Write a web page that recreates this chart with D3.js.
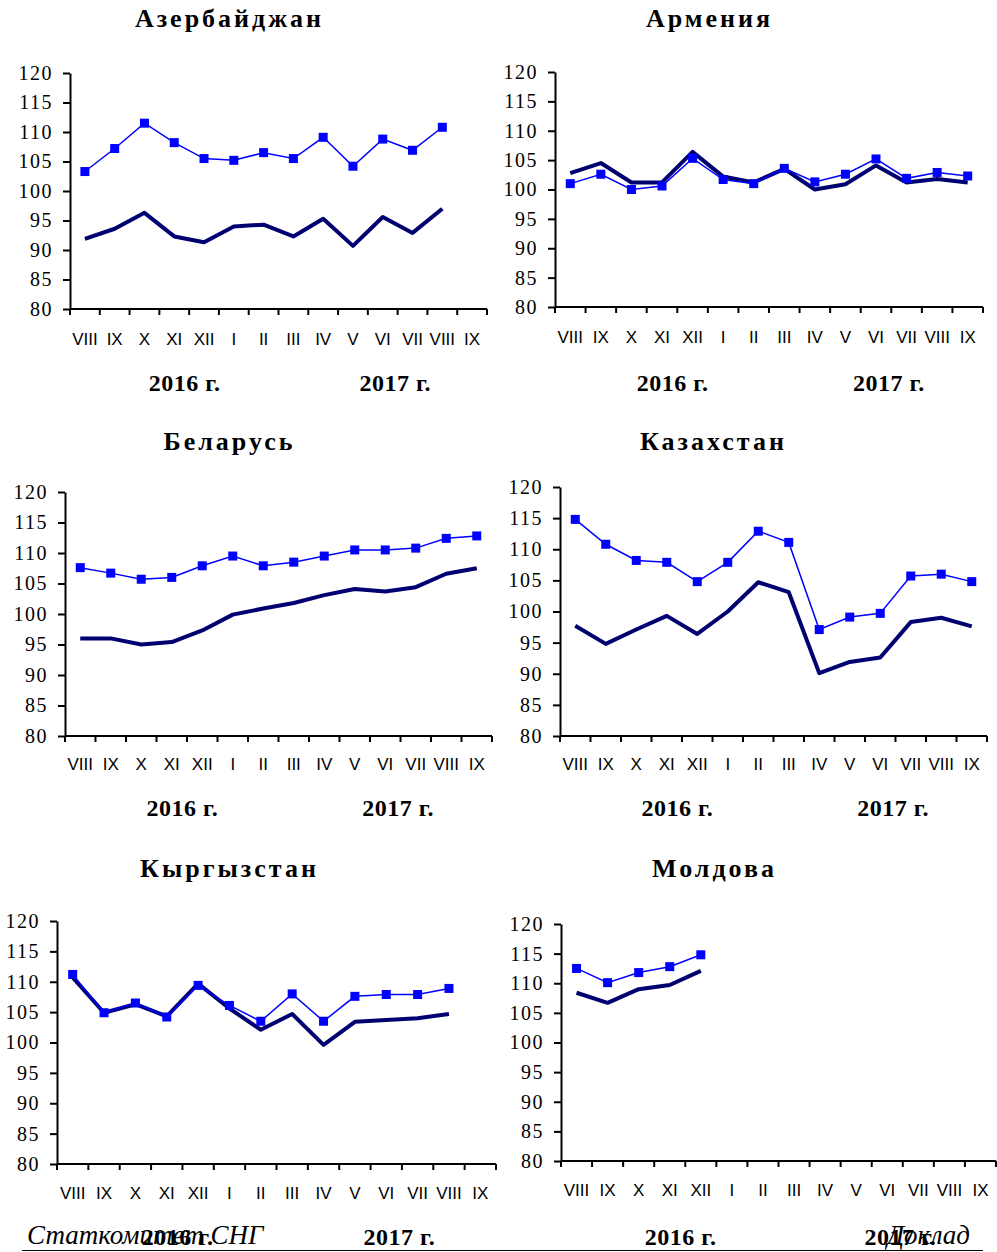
<!DOCTYPE html>
<html>
<head>
<meta charset="utf-8">
<script src="https://cdn.jsdelivr.net/npm/d3@7"></script>
<style>
  body { margin: 0; background: #fff; }
  svg { display: block; }
</style>
</head>
<body>
<div id="chart"></div>
<script>
// months shown on every x axis (Aug 2016 .. Sep 2017)
var months = ['VIII', 'IX', 'X', 'XI', 'XII', 'I', 'II', 'III', 'IV', 'V', 'VI', 'VII', 'VIII', 'IX'];
var years = ['2016 г.', '2017 г.'];
var countries = ['Азербайджан', 'Армения', 'Беларусь', 'Казахстан', 'Кыргызстан', 'Молдова'];
var yTicks = [80, 85, 90, 95, 100, 105, 110, 115, 120];

// thin blue line with square markers
var blueAzerbaijan = [103.3, 107.2, 111.5, 108.2, 105.5, 105.2, 106.5, 105.5, 109.1, 104.2, 108.8, 106.9, 110.8, null];
var blueArmenia    = [101.0, 102.6, 100.0, 100.6, 105.3, 101.7, 101.0, 103.6, 101.3, 102.6, 105.2, 101.9, 102.9, 102.3];
var blueBelarus    = [107.6, 106.7, 105.7, 106.0, 107.9, 109.5, 107.9, 108.5, 109.5, 110.5, 110.5, 110.8, 112.4, 112.8];
var blueKazakhstan = [114.8, 110.8, 108.2, 107.9, 104.8, 107.9, 112.9, 111.1, 97.1, 99.1, 99.7, 105.7, 106.0, 104.8];
var blueKyrgyzstan = [111.2, 104.9, 106.5, 104.2, 109.4, 106.1, 103.5, 108.0, 103.5, 107.6, 107.9, 107.9, 108.9, null];
var blueMoldova    = [112.5, 110.1, 111.8, 112.8, 114.8, null, null, null, null, null, null, null, null, null];

// thick navy line
var navyAzerbaijan = [91.9, 93.6, 96.3, 92.3, 91.3, 94.0, 94.3, 92.3, 95.3, 90.7, 95.6, 92.9, 97.0, null];
var navyArmenia    = [102.8, 104.5, 101.2, 101.2, 106.4, 102.2, 101.2, 103.5, 100.0, 100.9, 104.1, 101.2, 101.8, 101.2];
var navyBelarus    = [96.0, 96.0, 95.0, 95.4, 97.3, 99.9, 100.9, 101.8, 103.1, 104.1, 103.7, 104.4, 106.6, 107.5];
var navyKazakhstan = [97.7, 94.8, 97.1, 99.3, 96.4, 100.0, 104.7, 103.1, 90.1, 91.9, 92.6, 98.3, 99.0, 97.6];
var navyKyrgyzstan = [110.7, 104.9, 106.3, 104.3, 109.7, 105.6, 102.1, 104.7, 99.6, 103.4, 103.7, 104.0, 104.7, null];
var navyMoldova    = [108.4, 106.7, 109.0, 109.7, 112.1, null, null, null, null, null, null, null, null, null];

var blueSeries = [blueAzerbaijan, blueArmenia, blueBelarus, blueKazakhstan, blueKyrgyzstan, blueMoldova];
var navySeries = [navyAzerbaijan, navyArmenia, navyBelarus, navyKazakhstan, navyKyrgyzstan, navyMoldova];

var width = 997, height = 1252;
var serif = '"Liberation Serif", "Times New Roman", serif';

// plot boxes: left, right, top, bottom of the axes; title and text rows
var panels = [
  {x0: 70,  x1: 487, y0: 73,  y1: 309,  titleX: 228, titleY: 18,  labelY: 339,  yearY: 383},
  {x0: 555, x1: 983, y0: 72,  y1: 307,  titleX: 708, titleY: 18,  labelY: 337,  yearY: 383},
  {x0: 65,  x1: 492, y0: 492, y1: 736,  titleX: 228, titleY: 441, labelY: 764,  yearY: 808},
  {x0: 560, x1: 987, y0: 487, y1: 736,  titleX: 712, titleY: 441, labelY: 764,  yearY: 808},
  {x0: 57,  x1: 496, y0: 921, y1: 1164, titleX: 228, titleY: 868, labelY: 1193, yearY: 1237},
  {x0: 561, x1: 996, y0: 924, y1: 1161, titleX: 713, titleY: 868, labelY: 1190, yearY: 1237}
];

var svg = d3.select('#chart').append('svg')
  .attr('width', width)
  .attr('height', height);

panels.forEach(function(p, k) {
  var g = svg.append('g');

  var x = d3.scaleBand()
    .domain(d3.range(months.length))
    .range([p.x0, p.x1])
    .padding(0);
  var y = d3.scaleLinear()
    .domain([80, 120])
    .range([p.y1, p.y0]);
  var cx = function(i) { return x(i) + x.bandwidth() / 2; };

  // title
  g.append('text')
    .attr('x', p.titleX + 1.5)
    .attr('y', p.titleY)
    .attr('dy', '0.35em')
    .attr('text-anchor', 'middle')
    .style('font-family', serif)
    .style('font-weight', 'bold')
    .style('font-size', '26px')
    .style('letter-spacing', '3px')
    .text(countries[k]);

  // y axis
  var yAxis = d3.axisLeft(y)
    .tickValues(yTicks)
    .tickSize(7)
    .tickSizeOuter(0)
    .tickPadding(10);
  var ya = g.append('g')
    .attr('transform', 'translate(' + p.x0 + ',0)')
    .call(yAxis);
  ya.select('.domain').attr('stroke', '#000').attr('stroke-width', 2);
  ya.selectAll('.tick line').attr('stroke', '#000').attr('stroke-width', 2);
  ya.selectAll('.tick text')
    .style('font-family', serif)
    .style('font-size', '20px')
    .style('letter-spacing', '1.5px')
    .attr('fill', '#000');

  // x axis line with ticks on category boundaries
  g.append('line')
    .attr('x1', p.x0).attr('x2', p.x1)
    .attr('y1', p.y1).attr('y2', p.y1)
    .attr('stroke', '#000').attr('stroke-width', 2);
  var bounds = d3.range(months.length).map(function(i) { return x(i); }).concat([p.x1]);
  g.selectAll('.xtick')
    .data(bounds)
    .enter().append('line')
    .attr('x1', function(d) { return d; })
    .attr('x2', function(d) { return d; })
    .attr('y1', p.y1)
    .attr('y2', p.y1 + 6)
    .attr('stroke', '#000').attr('stroke-width', 2);

  g.selectAll('.xlabel')
    .data(months)
    .enter().append('text')
    .attr('x', function(d, i) { return cx(i); })
    .attr('y', p.labelY)
    .attr('dy', '0.35em')
    .attr('text-anchor', 'middle')
    .style('font-family', '"Liberation Sans", Arial, sans-serif')
    .style('font-size', '17px')
    .attr('fill', '#000')
    .text(function(d) { return d; });

  // year labels
  [0.275, 0.78].forEach(function(f, j) {
    g.append('text')
      .attr('x', p.x0 + (p.x1 - p.x0) * f)
      .attr('y', p.yearY)
      .attr('dy', '0.35em')
      .attr('text-anchor', 'middle')
      .style('font-family', serif)
      .style('font-weight', 'bold')
      .style('font-size', '24px')
      .style('letter-spacing', '0.5px')
      .text(years[j]);
  });

  var line = d3.line()
    .defined(function(d) { return d != null; })
    .x(function(d, i) { return cx(i); })
    .y(function(d) { return y(d); });

  // navy line
  g.append('path')
    .datum(navySeries[k])
    .attr('d', line)
    .attr('fill', 'none')
    .attr('stroke', '#000070')
    .attr('stroke-width', 4)
    .attr('stroke-linejoin', 'round');

  // blue line + markers
  g.append('path')
    .datum(blueSeries[k])
    .attr('d', line)
    .attr('fill', 'none')
    .attr('stroke', '#0000ff')
    .attr('stroke-width', 1.5);

  var pts = blueSeries[k].map(function(v, i) { return {i: i, v: v}; })
    .filter(function(d) { return d.v != null; });
  g.selectAll('.marker')
    .data(pts)
    .enter().append('rect')
    .attr('x', function(d) { return cx(d.i) - 4.5; })
    .attr('y', function(d) { return y(d.v) - 4.5; })
    .attr('width', 9)
    .attr('height', 9)
    .attr('fill', '#0000ff');
});

// footer
svg.append('text')
  .attr('x', 27)
  .attr('y', 1244)
  .style('font-family', serif)
  .style('font-style', 'italic')
  .style('font-size', '27px')
  .text('Статкомитет СНГ');
svg.append('text')
  .attr('x', 970)
  .attr('y', 1244)
  .attr('text-anchor', 'end')
  .style('font-family', serif)
  .style('font-style', 'italic')
  .style('font-size', '27px')
  .text('Доклад');
svg.append('line')
  .attr('x1', 22).attr('x2', 983)
  .attr('y1', 1250.5).attr('y2', 1250.5)
  .attr('stroke', '#000').attr('stroke-width', 1.2);
</script>
</body>
</html>
